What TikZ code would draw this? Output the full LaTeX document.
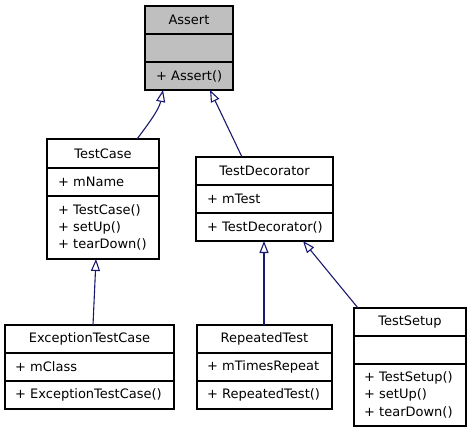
\documentclass[tikz,border=0pt]{standalone}
\usepackage{fontspec}
\setmainfont{DejaVu Sans}
\usetikzlibrary{arrows.meta}
\definecolor{edgeblue}{HTML}{191970}
\definecolor{assertgray}{HTML}{BFBFBF}
\tikzset{
  x=1pt, y=-1pt,
  cls/.style={draw=black, line width=1.2pt, fill=white, inner sep=0pt, outer sep=0pt, anchor=north west, rectangle},
  divider/.style={draw=black, line width=1.2pt},
  ttl/.style={font=\fontsize{13}{15}\selectfont, inner sep=0pt},
  lbl/.style={font=\fontsize{13}{15}\selectfont, inner sep=0pt, anchor=west},
  inh/.style={draw=edgeblue, line width=1.1pt, -{Triangle[open, length=12pt, width=9pt, fill=white]}},
}
\begin{document}
\begin{tikzpicture}
\useasboundingbox (0,0) rectangle (469,431);
% Assert
\node[cls, fill=assertgray, minimum width=88pt, minimum height=84pt] (assert) at (145,6) {};
\draw[divider] (145,34) -- (233,34) (145,62) -- (233,62);
\node[ttl] (assertT) at (189,20) {Assert};
\node[lbl] (assertM) at (156,76) {+ Assert()};
% TestCase
\node[cls, minimum width=112pt, minimum height=120pt] (tc) at (47,139) {};
\draw[divider] (47,168) -- (159,168) (47,196) -- (159,196);
\node[ttl] (tcT) at (103,153.5) {TestCase};
\node[lbl] (tcA) at (58,182) {+ mName};
\node[lbl] (tcM1) at (58,210.5) {+ TestCase()};
\node[lbl] (tcM2) at (58,227.5) {+ setUp()};
\node[lbl] (tcM3) at (58,244.5) {+ tearDown()};
% TestDecorator
\node[cls, minimum width=137pt, minimum height=84pt] (td) at (196,157) {};
\draw[divider] (196,185) -- (333,185) (196,213) -- (333,213);
\node[ttl] (tdT) at (264.5,171) {TestDecorator};
\node[lbl] (tdA) at (207,199) {+ mTest};
\node[lbl] (tdM) at (207,227) {+ TestDecorator()};
% ExceptionTestCase
\node[cls, minimum width=169pt, minimum height=84pt] (etc) at (5,325) {};
\draw[divider] (5,353) -- (174,353) (5,381) -- (174,381);
\node[ttl] (etcT) at (89.5,339) {ExceptionTestCase};
\node[lbl] (etcA) at (15,367) {+ mClass};
\node[lbl] (etcM) at (15,395) {+ ExceptionTestCase()};
% RepeatedTest
\node[cls, minimum width=135pt, minimum height=84pt] (rt) at (197,325) {};
\draw[divider] (197,353) -- (332,353) (197,381) -- (332,381);
\node[ttl] (rtT) at (264.5,339) {RepeatedTest};
\node[lbl] (rtA) at (207,367) {+ mTimesRepeat};
\node[lbl] (rtM) at (207,395) {+ RepeatedTest()};
% TestSetup
\node[cls, minimum width=112pt, minimum height=118pt] (ts) at (354,308) {};
\draw[divider] (354,336) -- (466,336) (354,364) -- (466,364);
\node[ttl] (tsT) at (410,322) {TestSetup};
\node[lbl] (tsM1) at (364,378) {+ TestSetup()};
\node[lbl] (tsM2) at (364,395) {+ setUp()};
\node[lbl] (tsM3) at (364,412) {+ tearDown()};
% inheritance edges
\draw[inh] ([xshift=34pt]tc.north) .. controls (146,127) and (159,110) .. ([xshift=-26pt]assert.south);
\draw[inh] ([xshift=-22.5pt]td.north) -- ([xshift=21pt]assert.south);
\draw[inh] ([xshift=3.5pt]etc.north) -- ([xshift=-7pt]tc.south);
\draw[inh] ([xshift=-0.5pt]rt.north) -- ([xshift=-0.5pt]td.south);
\draw[inh] ([xshift=-52pt]ts.north) -- ([xshift=38.5pt]td.south);
\end{tikzpicture}
\end{document}
